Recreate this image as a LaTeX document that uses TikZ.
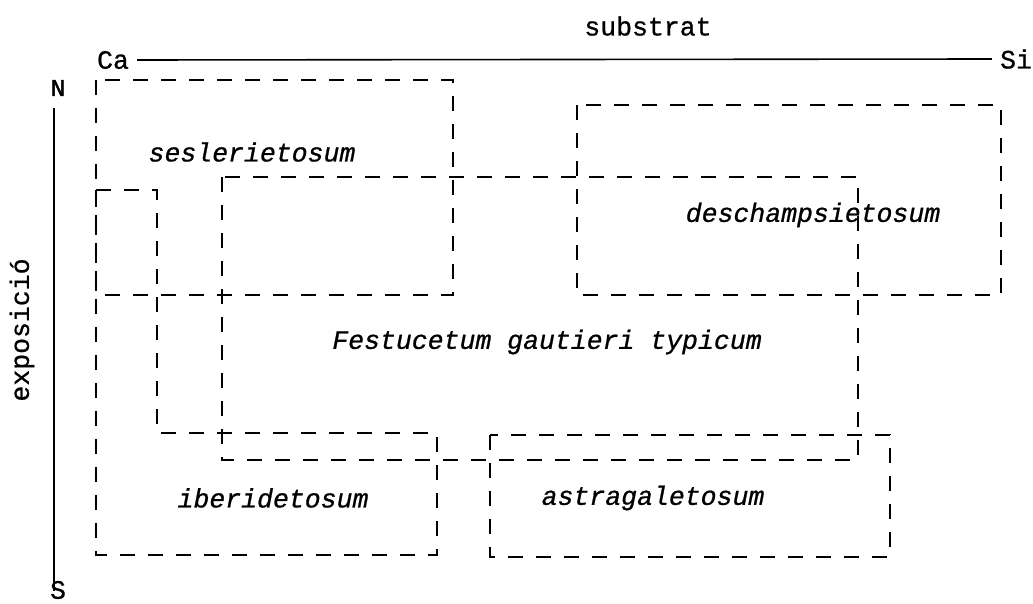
\documentclass[tikz,border=0pt]{standalone}
\usepackage{fontspec}
\setmonofont[FakeBold=0.8,ItalicFeatures={FakeBold=0.8}]{Liberation Mono}
\newfontfamily\boldmono[FakeBold=2]{Liberation Mono}
\begin{document}
\begin{tikzpicture}[x=1pt,y=-1pt,
  lbl/.style={font=\fontsize{26.5}{30}\selectfont\ttfamily, inner sep=0pt},
  ital/.style={font=\fontsize{26.5}{30}\selectfont\ttfamily\itshape, inner sep=0pt},
  zone/.style={line width=1.9pt, dash pattern=on 15pt off 13pt},
  axis/.style={line width=1.6pt}]
\useasboundingbox (0,0) rectangle (1033,604);
% axis labels
\node[lbl] (sub) at (648,26) {substrat};
\node[lbl] (ca) at (113,60) {Ca};
\node[lbl] (si) at (1016,59) {Si};
\node[lbl,font=\fontsize{24}{28}\selectfont\boldmono] (n) at (58,88) {N};
\node[lbl] (s) at (58,590) {S};
\node[lbl,rotate=90] (expo) at (22,330) {exposició};
\draw[axis] ([xshift=8pt]ca.east) -- ([xshift=-8pt]si.west);
\draw[axis] ([yshift=-12pt]n.south -| 54,0) -- ([yshift=-10pt]s.north -| 54,0);
% zones
\draw[zone] (96,80) rectangle (453,295);
\draw[zone] (96,190) -- (157,190) -- (157,433) -- (437,433) -- (437,555) -- (96,555) -- cycle;
\draw[zone] (222,177) rectangle (858,460);
\draw[zone] (577,105) rectangle (1001,295);
\draw[zone] (490,435) rectangle (890,557);
% zone labels
\node[ital] (ses) at (252,152) {seslerietosum};
\node[ital] (des) at (813,215) {deschampsietosum};
\node[ital] (fes) at (547,342) {Festucetum gautieri typicum};
\node[ital] (ibe) at (273,498) {iberidetosum};
\node[ital] (ast) at (653,498) {astragaletosum};
\end{tikzpicture}
\end{document}
